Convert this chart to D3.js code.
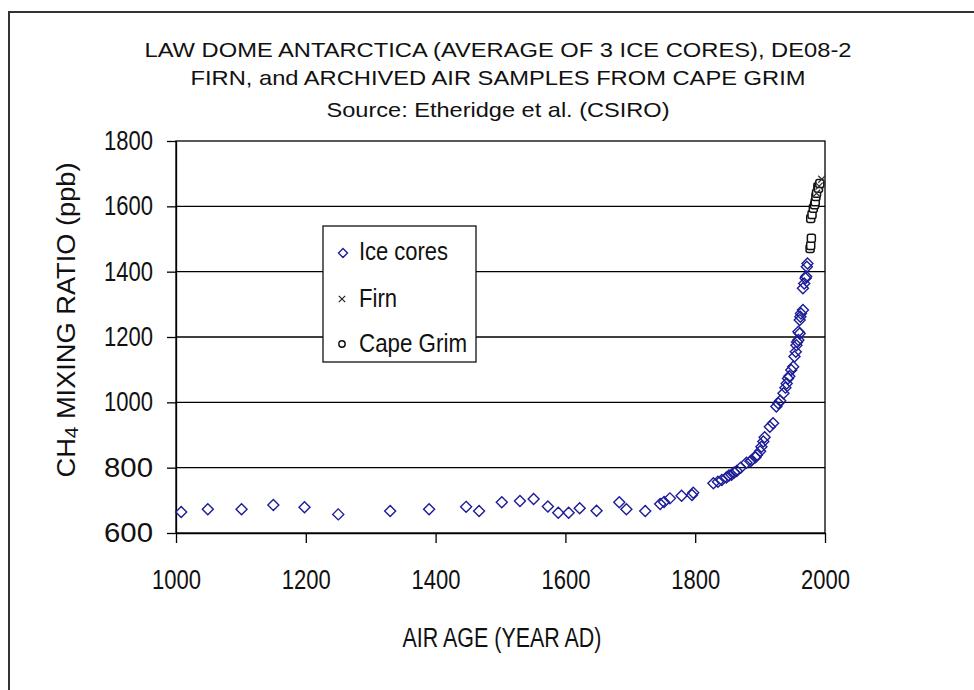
<!DOCTYPE html>
<html><head><meta charset="utf-8">
<script src="https://cdn.jsdelivr.net/npm/d3@7"></script>
<style>body{margin:0;background:#fff}svg{display:block}text{font-family:"Liberation Sans",Arial,sans-serif;fill:#111}</style>
</head><body><div id="chart"></div>
<script>
const titleLines = ["LAW DOME ANTARCTICA (AVERAGE OF 3 ICE CORES), DE08-2","FIRN, and ARCHIVED AIR SAMPLES FROM CAPE GRIM","Source: Etheridge et al. (CSIRO)"];
const xTicks = [1000,1200,1400,1600,1800,2000];
const yTicks = [600,800,1000,1200,1400,1600,1800];
const xLabel = "AIR AGE (YEAR AD)";
const legendNames = ["Ice cores","Firn","Cape Grim"];

const iceYear = [1008,1049,1101,1150,1198,1250,1330,1390,1447,1467,1502,1530,1551,1573,1589,1605,1622,1648,1683,1694,1723,1746,1752,1761,1779,1795,1797,1828,1835,1841,1848,1852,1856,1860,1864,1870,1879,1885,1887,1893,1895,1900,1902,1905,1907,1915,1920,1925,1928,1931,1936,1939,1941,1943,1945,1948,1951,1953,1955,1956,1957,1959,1959,1961,1961,1962,1963,1966,1966,1968,1970,1971,1972,1973];
const iceCH4  = [664,673,673,686,679,657,667,673,680,667,694,698,704,681,662,662,676,668,694,673,667,689,695,706,714,716,723,752,757,762,770,776,778,785,790,800,815,820,823,832,839,850,864,880,893,925,936,987,997,1005,1028,1045,1058,1073,1080,1099,1109,1140,1155,1175,1185,1191,1216,1211,1252,1262,1272,1283,1349,1364,1380,1385,1415,1425];

const firnYear = [1987,1991,1995];
const firnCH4  = [1640,1662,1683];

const capeYear = [1977,1978,1979,1978,1980,1982,1984,1985,1986,1987,1989,1990,1992];
const capeCH4  = [1471,1480,1502,1563,1575,1594,1605,1614,1630,1640,1660,1655,1670];

const W = 974, H = 690;
const svg = d3.select("#chart").append("svg").attr("width", W).attr("height", H);

// outer chart border
svg.append("rect").attr("x", 9).attr("y", 12).attr("width", 990).attr("height", 700)
  .attr("fill", "#fff").attr("stroke", "#333").attr("stroke-width", 2);

const x = d3.scaleLinear().domain([1000, 2000]).range([176, 825]);
const y = d3.scaleLinear().domain([600, 1800]).range([533, 141]);

// title
const tW = [707, 615, 343], tY = [57, 85, 116.5];
svg.selectAll("text.title").data(titleLines).join("text").attr("class", "title")
  .attr("x", 498).attr("y", (d, i) => tY[i]).attr("text-anchor", "middle")
  .attr("font-size", 21).attr("textLength", (d, i) => tW[i]).attr("lengthAdjust", "spacingAndGlyphs")
  .text(d => d);

// gridlines
svg.append("g").selectAll("line").data(yTicks.filter(v => v > 600 && v < 1800)).join("line")
  .attr("x1", x(1000)).attr("x2", x(2000)).attr("y1", d => y(d)).attr("y2", d => y(d))
  .attr("stroke", "#000").attr("stroke-width", 1.3);

// plot border
svg.append("rect").attr("x", x(1000)).attr("y", y(1800)).attr("width", x(2000) - x(1000)).attr("height", y(600) - y(1800))
  .attr("fill", "none").attr("stroke", "#000").attr("stroke-width", 1.3);

// axes
const yAxis = svg.append("g").attr("transform", `translate(${x(1000)},0)`)
  .call(d3.axisLeft(y).tickValues(yTicks).tickSize(9).tickSizeOuter(0).tickPadding(14).tickFormat(d3.format("d")));
const xAxis = svg.append("g").attr("transform", `translate(0,${y(600)})`)
  .call(d3.axisBottom(x).tickValues(xTicks).tickSize(10).tickSizeOuter(0).tickPadding(27).tickFormat(d3.format("d")));
[yAxis, xAxis].forEach(g => {
  g.select(".domain").attr("stroke", "#000").attr("stroke-width", 1.3);
  g.selectAll(".tick line").attr("stroke", "#000").attr("stroke-width", 1.3);
  g.selectAll(".tick text").attr("font-size", 27).attr("fill", "#111")
    .attr("font-family", '"Liberation Sans",Arial,sans-serif')
    .attr("textLength", 49).attr("lengthAdjust", "spacingAndGlyphs");
});

// axis titles
svg.append("text").attr("x", 502).attr("y", 647).attr("text-anchor", "middle")
  .attr("font-size", 27).attr("textLength", 199).attr("lengthAdjust", "spacingAndGlyphs").text(xLabel);
const yl = svg.append("text").attr("transform", "translate(75,320) rotate(-90)").attr("text-anchor", "middle")
  .attr("font-size", 25).attr("textLength", 315).attr("lengthAdjust", "spacingAndGlyphs");
yl.append("tspan").text("CH");
yl.append("tspan").attr("font-size", 19).attr("dy", 3).text("4");
yl.append("tspan").attr("dy", -3).text(" MIXING  RATIO (ppb)");

// marker shapes
const diamond = r => `M0,${-r}L${r},0L0,${r}L${-r},0Z`;
const cross = r => `M${-r},${-r}L${r},${r}M${-r},${r}L${r},${-r}`;

const ice = iceYear.map((d, i) => [d, iceCH4[i]]);
const firn = firnYear.map((d, i) => [d, firnCH4[i]]);
const cape = capeYear.map((d, i) => [d, capeCH4[i]]);

svg.append("g").selectAll("path").data(ice).join("path")
  .attr("transform", d => `translate(${x(d[0])},${y(d[1])})`)
  .attr("d", diamond(5.5)).attr("fill", "none").attr("stroke", "#1c1c96").attr("stroke-width", 1.4);

svg.append("g").selectAll("rect").data(cape).join("rect")
  .attr("x", d => x(d[0]) - 4).attr("y", d => y(d[1]) - 4).attr("width", 8).attr("height", 8).attr("rx", 2)
  .attr("fill", "#fff").attr("stroke", "#111").attr("stroke-width", 1.5);

svg.append("g").selectAll("path").data(firn).join("path")
  .attr("transform", d => `translate(${x(d[0])},${y(d[1])})`)
  .attr("d", cross(3.5)).attr("stroke", "#333").attr("stroke-width", 1.2);

// legend
const lg = svg.append("g");
lg.append("rect").attr("x", 323).attr("y", 226).attr("width", 153).attr("height", 136)
  .attr("fill", "#fff").attr("stroke", "#111").attr("stroke-width", 1.3);
const lBase = [260, 307, 352], lW = [89, 38, 108];
legendNames.forEach((n, i) => {
  lg.append("text").attr("x", 359).attr("y", lBase[i]).attr("font-size", 26)
    .attr("textLength", lW[i]).attr("lengthAdjust", "spacingAndGlyphs").text(n);
});
lg.append("path").attr("transform", "translate(343,253)").attr("d", diamond(4.5))
  .attr("fill", "none").attr("stroke", "#1c1c96").attr("stroke-width", 1.4);
lg.append("path").attr("transform", "translate(342,299)").attr("d", cross(3.2))
  .attr("stroke", "#222").attr("stroke-width", 1.2);
lg.append("circle").attr("cx", 342).attr("cy", 344).attr("r", 3.2)
  .attr("fill", "none").attr("stroke", "#111").attr("stroke-width", 1.4);
</script></body></html>
